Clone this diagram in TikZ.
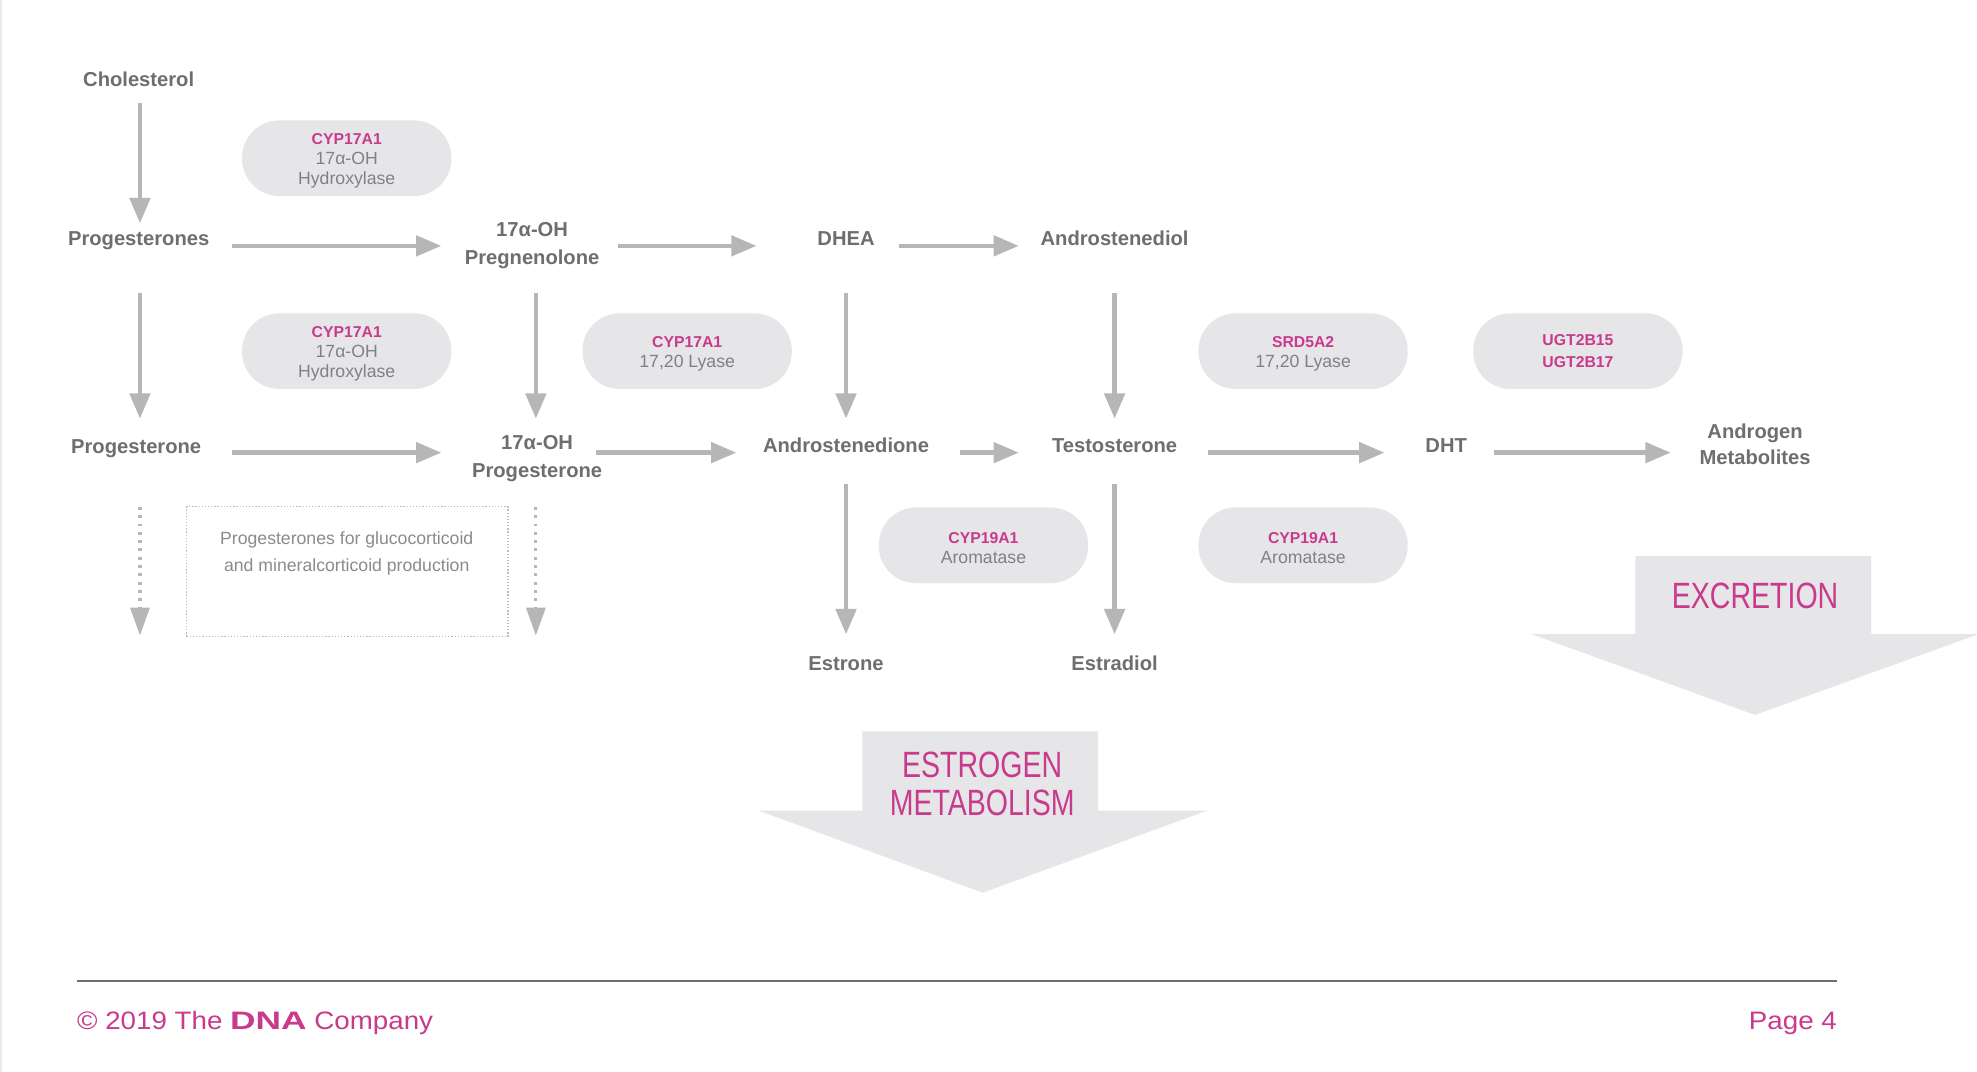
\documentclass[tikz,border=0pt]{standalone}
\usepackage{fontspec}
\setmainfont{Liberation Sans}
\newfontfamily\condfont[FakeStretch=0.78]{Liberation Sans}
\newfontfamily\widefont[FakeStretch=1.1]{Liberation Sans}
\newfontfamily\dnafont[FakeStretch=1.4]{Liberation Sans}
\usetikzlibrary{arrows.meta,calc}
\definecolor{mag}{HTML}{C93A8C}
\definecolor{lblc}{HTML}{6D6E71}
\definecolor{arrg}{HTML}{B5B6B8}
\definecolor{pillg}{HTML}{E6E6E8}
\definecolor{bigg}{HTML}{E6E6E8}
\definecolor{ptext}{HTML}{808184}
\definecolor{btext}{HTML}{8A8B8D}
\definecolor{dboxc}{HTML}{BDBDBD}
\definecolor{footg}{HTML}{6E6E6E}
\definecolor{beige}{HTML}{EFEAE1}
\newcommand{\pillhead}[1]{\rule{0pt}{13pt}{\color{mag}\bfseries\fontsize{12.5}{15}\selectfont #1}}
\begin{document}
\begin{tikzpicture}[x=1pt,y=-1pt,
  lbl/.style={text=lblc,font=\bfseries\fontsize{16}{22}\selectfont,inner sep=0pt,text height=11.5pt,text depth=0pt},
  lbltwo/.style={text=lblc,font=\bfseries\fontsize{16}{22}\selectfont,inner sep=0pt,align=center},
  pill/.style={fill=pillg,rounded corners=29.5pt,minimum width=166pt,minimum height=60pt,inner sep=0pt,align=center,text=ptext,font=\fontsize{14}{16}\selectfont},
  arr/.style={draw=arrg,line width=3.5pt,-{Triangle[length=20pt,width=16pt]}},
  dotarr/.style={draw=arrg,line width=2.5pt,dash pattern=on 2.2pt off 4.4pt,-{Triangle[length=22pt,width=15pt]}},
  dbox/.style={draw=dboxc,line width=1pt,dash pattern=on 1pt off 1.5pt,minimum width=255pt,minimum height=103pt,inner sep=0pt},
  boxtxt/.style={text=btext,font=\fontsize{14}{22}\selectfont,align=center,inner sep=0pt},
  bigtxt/.style={text=mag,font=\condfont\fontsize{29}{30}\selectfont,align=center,inner sep=0pt},
  foot/.style={text=mag,font=\widefont\fontsize{20}{24}\selectfont,inner sep=0pt}
]
\useasboundingbox (0,0) rectangle (1568,850.2);
\fill[white] (0,0) rectangle (1568,850.2);
\fill[beige] (0,0) rectangle (1.6,850.2);

% big arrows
\fill[bigg] (684,580) -- (871,580) -- (871,643) -- (957,643) -- (779.5,708) -- (602,643) -- (684,643) -- cycle;
\fill[bigg] (1297,441) -- (1484,441) -- (1484,503) -- (1569,503) -- (1392,567) -- (1215,503) -- (1297,503) -- cycle;
\node[bigtxt] (estm) at (779,622) {ESTROGEN\\METABOLISM};
\node[bigtxt] (excr) at (1392,473) {EXCRETION};

% pills
\node[pill] (p1) at (275,125.5) {\pillhead{CYP17A1}\\17α-OH\\Hydroxylase};
\node[pill] (p2) at (275,278.5) {\pillhead{CYP17A1}\\17α-OH\\Hydroxylase};
\node[pill] (p3) at (545,278.5) {\pillhead{CYP17A1}\\17,20 Lyase};
\node[pill] (p4) at (1033.5,278.5) {\pillhead{SRD5A2}\\17,20 Lyase};
\node[pill,text=mag,font=\bfseries\fontsize{12.5}{17}\selectfont] (p5) at (1251.5,278.5) {UGT2B15\\UGT2B17};
\node[pill] (p6) at (780,432.5) {\pillhead{CYP19A1}\\Aromatase};
\node[pill] (p7) at (1033.5,432.5) {\pillhead{CYP19A1}\\Aromatase};

% dotted box
\node[dbox] (gbox) at (275.5,453.5) {};
\node[boxtxt] (gtext) at (275,439) {Progesterones for glucocorticoid\\and mineralcorticoid production};

% labels
\node[lbl] (chol) at (110,63) {Cholesterol};
\node[lbl] (prgs) at (110,189) {Progesterones};
\node[lbltwo] (preg) at (422,195) {17α-OH\\Pregnenolone};
\node[lbl] (dhea) at (671,189) {DHEA};
\node[lbl] (adiol) at (884,189) {Androstenediol};
\node[lbl] (prog) at (108,354) {Progesterone};
\node[lbltwo] (ohp) at (426,364) {17α-OH\\Progesterone};
\node[lbl] (adione) at (671,353) {Androstenedione};
\node[lbl] (testo) at (884,353) {Testosterone};
\node[lbl] (dht) at (1147,353) {DHT};
\node[lbltwo,font=\bfseries\fontsize{16}{20.5}\selectfont] (andm) at (1392,352.5) {Androgen\\Metabolites};
\node[lbl] (estrone) at (671,526) {Estrone};
\node[lbl] (estradiol) at (884,526) {Estradiol};

% arrows
\draw[arr] ([shift={(1,19)}]chol.center) -- ([shift={(1,-12)}]prgs.center);
\draw[arr] ([shift={(74,6)}]prgs.center) -- ([shift={(-72,0)}]preg.center);
\draw[arr] ([shift={(68,0)}]preg.center) -- ([shift={(-71,6)}]dhea.center);
\draw[arr] ([shift={(42,6)}]dhea.center) -- ([shift={(-76,6)}]adiol.center);
\draw[arr] ([shift={(1,43)}]prgs.center) -- ([shift={(3,-22)}]prog.center);
\draw[arr] ([shift={(3,37)}]preg.center) -- ([shift={(-1,-32)}]ohp.center);
\draw[arr] ([shift={(0,43)}]dhea.center) -- ([shift={(0,-21)}]adione.center);
\draw[arr] ([shift={(0,43)}]adiol.center) -- ([shift={(0,-21)}]testo.center);
\draw[arr] ([shift={(76,5)}]prog.center) -- ([shift={(-76,-5)}]ohp.center);
\draw[arr] ([shift={(47,-5)}]ohp.center) -- ([shift={(-87,6)}]adione.center);
\draw[arr] ([shift={(90,6)}]adione.center) -- ([shift={(-76,6)}]testo.center);
\draw[arr] ([shift={(74,6)}]testo.center) -- ([shift={(-49,6)}]dht.center);
\draw[arr] ([shift={(38,6)}]dht.center) -- ([shift={(-67,6.5)}]andm.center);
\draw[arr] ([shift={(0,31)}]adione.center) -- ([shift={(0,-23)}]estrone.center);
\draw[arr] ([shift={(0,31)}]testo.center) -- ([shift={(0,-23)}]estradiol.center);
\coordinate (d1) at (111,504);
\coordinate (d2) at (425,504);
\draw[dotarr] ([shift={(3,48)}]prog.center) -- (d1);
\draw[dotarr] ([shift={(-1,38)}]ohp.center) -- (d2);

% footer
\draw[draw=footg,line width=1.8pt] (61,778) -- (1457,778);
\node[foot,anchor=base west] (copy) at (61,816.5) {© 2019 The {\dnafont\bfseries DNA} Company};
\node[foot,anchor=base east] (page) at (1457,816.5) {Page 4};
\end{tikzpicture}
\end{document}
